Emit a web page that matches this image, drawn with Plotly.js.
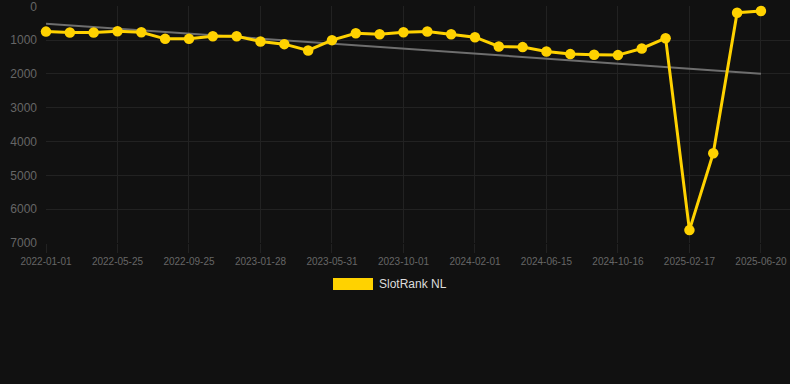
<!DOCTYPE html>
<html>
<head>
<meta charset="utf-8">
<script src="https://cdn.plot.ly/plotly-3.0.1.min.js"></script>
<style>
html,body{margin:0;padding:0;background:#111111;}
#chart{width:790px;height:384px;}
</style>
</head>
<body>
<div id="chart"></div>
<script>
// Tick labels shown on the x axis (every third observation)
var tickLabels = ["2022-01-01","2022-05-25","2022-09-25","2023-01-28","2023-05-31","2023-10-01","2024-02-01","2024-06-15","2024-10-16","2025-02-17","2025-06-20"];
// Observation index (31 observations)
var obsIndex = [0,1,2,3,4,5,6,7,8,9,10,11,12,13,14,15,16,17,18,19,20,21,22,23,24,25,26,27,28,29,30];
// SlotRank NL values
var rankValues = [747,776,776,737,767,962,962,883,883,1040,1118,1305,1000,795,825,765,745,825,913,1187,1206,1334,1413,1432,1442,1246,942,6618,4344,188,138];
// Trend line end values
var trendX = [0,30];
var trendY = [512,1991];
var seriesName = "SlotRank NL";
var tickPositions = [0,3,6,9,12,15,18,21,24,27,30];
var yTicks = [0,1000,2000,3000,4000,5000,6000,7000];

var traces = [
  {x: trendX, y: trendY, type: "scatter", mode: "lines",
   line: {color: "#6e6e6e", width: 2}, hoverinfo: "skip", showlegend: false, cliponaxis: false},
  {x: obsIndex, y: rankValues, type: "scatter", mode: "lines+markers", name: seriesName,
   line: {color: "#ffd200", width: 3}, marker: {color: "#ffd200", size: 10.5},
   showlegend: false, cliponaxis: false}
];

var layout = {
  width: 790, height: 384,
  paper_bgcolor: "#111111", plot_bgcolor: "#111111",
  margin: {l: 46, r: 0, t: 6, b: 141},
  font: {family: "Liberation Sans, Arial, sans-serif", color: "#666666"},
  showlegend: false,
  xaxis: {
    range: [0, 31.22], tickmode: "array", tickvals: tickPositions, ticktext: tickLabels,
    showgrid: true, gridcolor: "#222222", gridwidth: 1, zeroline: false,
    ticks: "outside", ticklen: 9, tickcolor: "#222222", ticklabeloverflow: "allow",
    tickfont: {size: 10, color: "#666666"}, showline: false, fixedrange: true
  },
  yaxis: {
    range: [7000, -10], autorange: false, tickmode: "array", tickvals: yTicks,
    showgrid: true, gridcolor: "#222222", gridwidth: 1, zeroline: false,
    ticks: "", ticklabelstandoff: 8, ticklabeloverflow: "allow",
    tickfont: {size: 12, color: "#666666"}, showline: false, fixedrange: true
  },
  shapes: [
    {type: "rect", xref: "paper", yref: "paper", xsizemode: "pixel", ysizemode: "pixel",
     xanchor: 0, yanchor: 0, x0: 287, x1: 327, y0: -47, y1: -35,
     fillcolor: "#ffd200", line: {width: 0}}
  ],
  annotations: [
    {xref: "paper", yref: "paper", x: 0, y: 0, xanchor: "left", yanchor: "middle",
     xshift: 331, yshift: -41, text: seriesName, showarrow: false,
     font: {size: 12, color: "#dddddd", family: "Liberation Sans, Arial, sans-serif"}}
  ]
};

Plotly.newPlot("chart", traces, layout, {displayModeBar: false, staticPlot: true});
</script>
</body>
</html>
